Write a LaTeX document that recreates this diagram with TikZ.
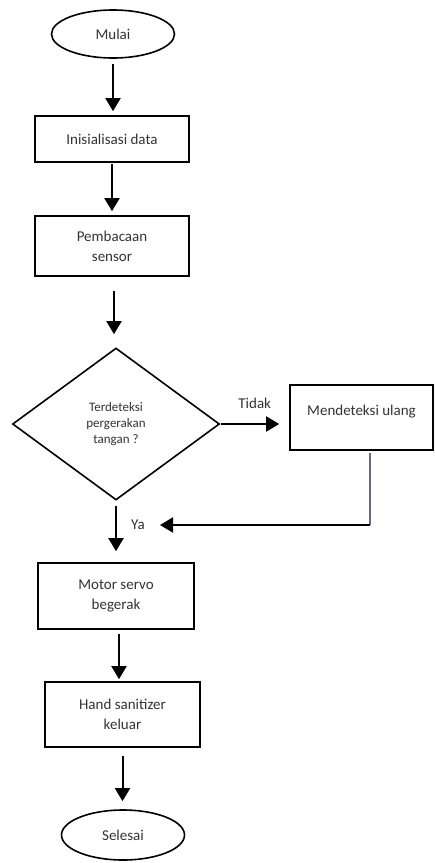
\documentclass[tikz,border=0pt]{standalone}
\usepackage{fontspec}
\setmainfont{Carlito}
\usetikzlibrary{arrows.meta,shapes.geometric}
\definecolor{abubiru}{RGB}{100,104,135}

\begin{document}
\begin{tikzpicture}[x=1pt,y=-1pt,>={Triangle[length=13pt,width=15pt]},
    font=\fontsize{15}{20}\selectfont,text=black!80,
    shorten >=4pt,shorten <=5pt,
    terminal/.style={ellipse,draw,line width=1.6pt,minimum width=123pt,minimum height=48pt},
    process/.style={rectangle,draw,line width=1.6pt,align=center,minimum width=154pt},
    decision/.style={diamond,draw,line width=1.6pt,align=center,minimum width=207pt,minimum height=152pt,
        font=\fontsize{13}{16}\selectfont},
    flow/.style={->,line width=2pt}]
    \useasboundingbox (0,0) rectangle (435,863);

    \node[terminal] (mulai) at (113,34) {Mulai};
    \node[process, minimum height=46pt] (init) at (112,139) {Inisialisasi data};
    \node[process, minimum height=60pt] (baca) at (112,246) {Pembacaan\\sensor};
    \node[decision] (cek) at (116,424) {Terdeteksi\\pergerakan\\tangan ?};
    \node[process, minimum width=143pt, minimum height=65pt, text depth=15pt] (ulang) at (361.5,417.5) {Mendeteksi ulang};
    \node[process, minimum width=156pt, minimum height=66pt] (servo) at (116,596) {Motor servo\\begerak};
    \node[process, minimum width=155pt, minimum height=65pt] (keluar) at (122.5,714.5) {Hand sanitizer\\keluar};
    \node[terminal, minimum height=50pt] (selesai) at (123,835) {Selesai};
    \node (ya) at (138,525) {Ya};
    \coordinate (belok) at (370,525);
    \coordinate (balik) at (160,525);

    \draw[flow] (mulai.south) -- (mulai.south |- init.north);
    \draw[flow, shorten <=1pt] (init.south) -- (init.south |- baca.north);
    \draw[flow, shorten <=14pt, shorten >=13pt] ([xshift=2pt]baca.south) -- ([xshift=2pt]baca.south |- cek.north);
    \draw[flow, shorten >=10pt, shorten <=1pt] (cek.east) -- node[above=11pt] {Tidak} (cek.east -| ulang.west);
    \draw[line width=1.3pt, draw=abubiru, shorten <=2pt, shorten >=0pt] (ulang.south -| belok) -- (belok);
    \draw[flow, shorten <=0pt, shorten >=0pt] (belok) -- (balik);
    \draw[flow, shorten >=11pt] (cek.south) -- (cek.south |- servo.north);
    \draw[flow, shorten <=4pt, shorten >=2pt] ([xshift=3pt]servo.south) -- ([xshift=3pt]servo.south |- keluar.north);
    \draw[flow, shorten <=8pt, shorten >=8pt] (keluar.south) -- (keluar.south |- selesai.north);
\end{tikzpicture}
\end{document}
